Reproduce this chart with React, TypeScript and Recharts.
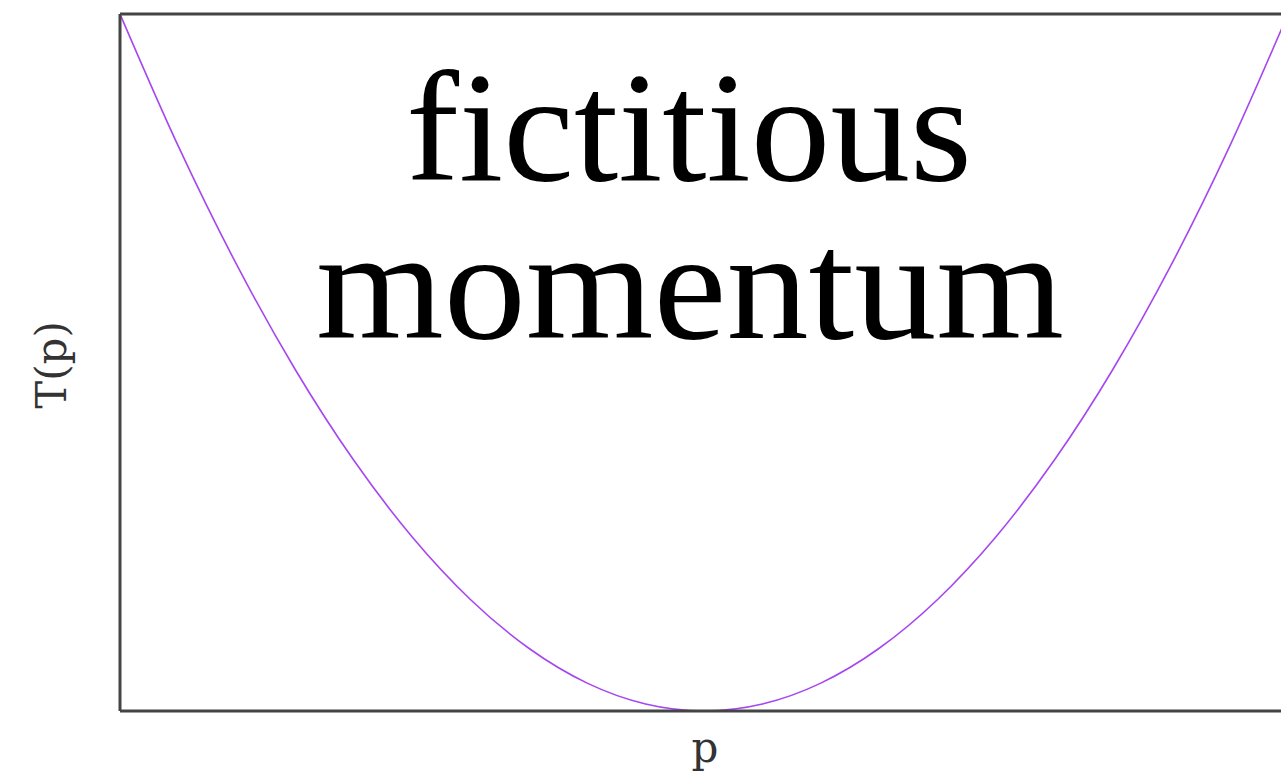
import { Customized, Line, LineChart, ReferenceLine, XAxis, YAxis } from "recharts";

// momentum p (normalised) and kinetic term T(p)
const pValues = [
  -1, -0.9, -0.8, -0.7, -0.6, -0.5, -0.4, -0.3, -0.2, -0.1, 0, 0.1, 0.2, 0.3,
  0.4, 0.5, 0.6, 0.7, 0.8, 0.9, 1,
];
const tValues = [
  1, 0.81, 0.64, 0.49, 0.36, 0.25, 0.16, 0.09, 0.04, 0.01, 0, 0.01, 0.04,
  0.09, 0.16, 0.25, 0.36, 0.49, 0.64, 0.81, 1,
];
const titleLines = ["fictitious", "momentum"];
const xLabel = "p";
const yLabel = "T(p)";

const chartData = pValues.map((p, i) => ({ p, t: tValues[i] }));

const AXIS_COLOR = "#444444";
const CURVE_COLOR = "#a646f0";

function TitleText() {
  return (
    <g>
      <text
        x={689}
        y={180}
        textAnchor="middle"
        textLength={566}
        lengthAdjust="spacingAndGlyphs"
        fontFamily="'Liberation Serif', serif"
        fontSize={156}
        fill="#000"
      >
        {titleLines[0]}
      </text>
      <text
        x={690}
        y={338}
        textAnchor="middle"
        textLength={748}
        lengthAdjust="spacingAndGlyphs"
        fontFamily="'Liberation Serif', serif"
        fontSize={156}
        fill="#000"
      >
        {titleLines[1]}
      </text>
      <text
        x={705}
        y={762}
        textAnchor="middle"
        fontFamily="'DejaVu Serif', serif"
        fontSize={42}
        fill="#333"
      >
        {xLabel}
      </text>
      <text
        x={66}
        y={365}
        transform="rotate(-90 66 365)"
        textAnchor="middle"
        fontFamily="'DejaVu Serif', serif"
        fontSize={42}
        fill="#333"
      >
        {yLabel}
      </text>
    </g>
  );
}

export default function App() {
  return (
    <div
      style={{
        position: "absolute",
        left: 0,
        top: 0,
        width: 1281,
        height: 780,
        overflow: "hidden",
        background: "#fff",
      }}
    >
      <LineChart
        width={1300}
        height={780}
        data={chartData}
        margin={{ top: 14, right: 12, bottom: 9, left: 0 }}
      >
        <XAxis
          dataKey="p"
          type="number"
          domain={[-1, 1]}
          tick={false}
          tickLine={false}
          height={60}
          axisLine={{ stroke: AXIS_COLOR, strokeWidth: 3 }}
        />
        <YAxis
          type="number"
          domain={[0, 1]}
          tick={false}
          tickLine={false}
          width={120}
          axisLine={{ stroke: AXIS_COLOR, strokeWidth: 3 }}
        />
        <ReferenceLine y={1} stroke={AXIS_COLOR} strokeWidth={3} />
        <ReferenceLine x={1} stroke={AXIS_COLOR} strokeWidth={3} />
        <Line
          type="monotone"
          dataKey="t"
          stroke={CURVE_COLOR}
          strokeWidth={1.6}
          dot={false}
          isAnimationActive={false}
        />
        <Customized component={TitleText} />
      </LineChart>
    </div>
  );
}
